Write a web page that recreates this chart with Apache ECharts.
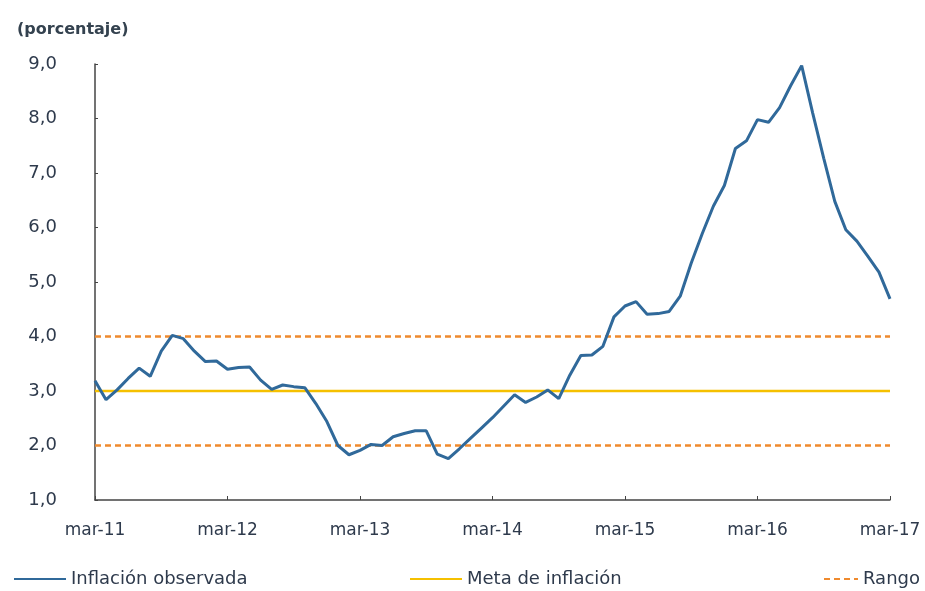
<!DOCTYPE html>
<html>
<head>
<meta charset="utf-8">
<script src="https://cdn.jsdelivr.net/npm/echarts@6/dist/echarts.min.js"></script>
<style>
html,body{margin:0;padding:0;background:#fff;}
#c{width:925px;height:591px;}
</style>
</head>
<body>
<div id="c"></div>
<script>
// Months mar-11 .. mar-17
const months = [
 'mar-11','abr-11','may-11','jun-11','jul-11','ago-11','sep-11','oct-11','nov-11','dic-11',
 'ene-12','feb-12','mar-12','abr-12','may-12','jun-12','jul-12','ago-12','sep-12','oct-12','nov-12','dic-12',
 'ene-13','feb-13','mar-13','abr-13','may-13','jun-13','jul-13','ago-13','sep-13','oct-13','nov-13','dic-13',
 'ene-14','feb-14','mar-14','abr-14','may-14','jun-14','jul-14','ago-14','sep-14','oct-14','nov-14','dic-14',
 'ene-15','feb-15','mar-15','abr-15','may-15','jun-15','jul-15','ago-15','sep-15','oct-15','nov-15','dic-15',
 'ene-16','feb-16','mar-16','abr-16','may-16','jun-16','jul-16','ago-16','sep-16','oct-16','nov-16','dic-16',
 'ene-17','feb-17','mar-17'
];
// Inflación observada (%)
const inflacion = [
 3.19,2.84,3.02,3.23,3.42,3.27,3.73,4.02,3.96,3.73,
 3.54,3.55,3.40,3.43,3.44,3.20,3.03,3.11,3.08,3.06,2.77,2.44,
 2.00,1.83,1.91,2.02,2.00,2.16,2.22,2.27,2.27,1.84,1.76,1.94,
 2.13,2.32,2.51,2.72,2.93,2.79,2.89,3.02,2.86,3.29,3.65,3.66,
 3.82,4.36,4.56,4.64,4.41,4.42,4.46,4.74,5.35,5.89,6.39,6.77,
 7.45,7.59,7.98,7.93,8.20,8.60,8.97,8.10,7.27,6.48,5.96,5.75,
 5.47,5.18,4.69
];
const metaValor = 3.0;
const rangoInferior = 2.0;
const rangoSuperior = 4.0;
const yTicks = [1,2,3,4,5,6,7,8,9];

const first = months[0], last = months[months.length-1];
const txt = '#2e3a4c';
const font = 'DejaVu Sans';

const legendText = {fontFamily:font,fontSize:18,color:txt};
const chart = echarts.init(document.getElementById('c'));
chart.setOption({
  animation:false,
  backgroundColor:'#fff',
  title:{text:'(porcentaje)',left:12,top:17,textStyle:{fontFamily:font,fontSize:16,fontWeight:'bold',color:'#34424f'}},
  grid:{left:95,right:35,top:64,bottom:91},
  xAxis:{
    type:'category',data:months,boundaryGap:false,
    axisLine:{lineStyle:{color:'#444',width:1.5}},
    axisTick:{inside:true,length:4,interval:11,lineStyle:{color:'#444'}},
    axisLabel:{interval:11,margin:22,fontFamily:font,fontSize:17,color:txt}
  },
  yAxis:{
    type:'value',min:yTicks[0],max:yTicks[yTicks.length-1],interval:1,
    axisLine:{show:true,lineStyle:{color:'#444',width:1.5}},
    axisTick:{show:true,inside:true,length:3,lineStyle:{color:'#444'}},
    splitLine:{show:false},
    axisLabel:{margin:38,fontFamily:font,fontSize:18,color:txt,
      formatter:v=>v.toFixed(1).replace('.',',')}
  },
  legend:[
    {left:8,top:565,itemWidth:52,itemHeight:10,itemGap:8,data:['Inflación observada'],
     itemStyle:{opacity:0},textStyle:legendText},
    {left:404,top:565,itemWidth:52,itemHeight:10,data:['Meta de inflación'],
     itemStyle:{opacity:0},textStyle:legendText},
    {left:818,top:565,itemWidth:34,itemHeight:10,itemGap:3,data:['Rango'],
     itemStyle:{opacity:0},textStyle:legendText}
  ],
  series:[
    {name:'Rango',type:'line',symbol:'none',data:[[first,rangoInferior],[last,rangoInferior]],
     lineStyle:{color:'#ef8a2e',width:2.5,type:[6,4]},itemStyle:{color:'#ef8a2e'},z:1},
    {name:'Rango',type:'line',symbol:'none',data:[[first,rangoSuperior],[last,rangoSuperior]],
     lineStyle:{color:'#ef8a2e',width:2.5,type:[6,4]},itemStyle:{color:'#ef8a2e'},z:1},
    {name:'Meta de inflación',type:'line',symbol:'none',data:[[first,metaValor],[last,metaValor]],
     lineStyle:{color:'#f5c000',width:2.5},itemStyle:{color:'#f5c000'},z:2},
    {name:'Inflación observada',type:'line',symbol:'none',data:inflacion,
     lineStyle:{color:'#30699a',width:3},itemStyle:{color:'#30699a'},z:3}
  ]
});
</script>
</body>
</html>
